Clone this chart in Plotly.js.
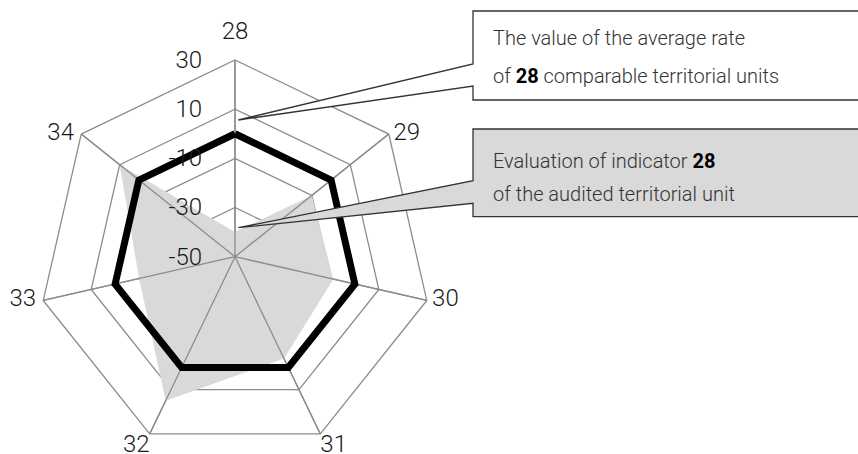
<!DOCTYPE html>
<html>
<head>
<meta charset="utf-8">
<script src="https://cdn.plot.ly/plotly-3.0.1.min.js"></script>
<style>html,body{margin:0;padding:0;background:#fff;}#chart{width:858px;height:454px;}</style>
</head>
<body>
<div id="chart"></div>
<script>
// ---- data ----
const categories = ['28', '29', '30', '31', '32', '33', '34'];
const averageValues = [0, 0, 0, 0, 0, 0, 0];
const evaluationValues = [-40, -10, -9, -4, 15, -10, 10];
const radialTicks = [-50, -30, -10, 10, 30];
const radialRange = [-50, 30];
const box1Lines = ['The value of the average rate', 'of <b><span style="color:#000">28</span></b> comparable territorial units'];
const box2Lines = ['Evaluation of indicator <b><span style="color:#000">28</span></b>', 'of the audited territorial unit'];

// ---- layout helpers ----
const W = 858, H = 454;
const px = x => x / W;
const py = y => 1 - y / H;
const FONT = "Roboto, 'Noto Sans', sans-serif";
const GRID = '#8c8c8c';

function pathOf(pts) {
  return 'M ' + pts.map(p => px(p[0]).toFixed(5) + ',' + py(p[1]).toFixed(5)).join(' L ') + ' Z';
}

// spokes drawn above the grey fill
const spokeR = [], spokeT = [];
categories.forEach(c => { spokeR.push(radialRange[0], radialRange[1], null); spokeT.push(c, c, null); });

// angular labels placed at the outer ring of an overlaid unit polar subplot
const labelPos = ['top center', 'middle right', 'middle right', 'bottom right', 'bottom left', 'middle left', 'middle left'];
const labelPad = [23, 6, 7, 0, 0, 10, 10];

const traces = [
  {
    type: 'scatterpolar', r: evaluationValues, theta: categories,
    mode: 'lines', fill: 'toself', fillcolor: '#d9d9d9',
    line: {width: 0, color: '#d9d9d9'}, hoverinfo: 'skip'
  },
  {
    type: 'scatterpolar', r: spokeR, theta: spokeT,
    mode: 'lines', line: {width: 1.3, color: GRID}, connectgaps: false, hoverinfo: 'skip'
  },
  {
    type: 'scatterpolar', r: averageValues.concat([averageValues[0]]), theta: categories.concat([categories[0]]),
    mode: 'lines', line: {width: 7, color: '#000'}, hoverinfo: 'skip'
  },
  {
    type: 'scatterpolar', subplot: 'polar2', r: categories.map(() => 0.9999), theta: categories,
    mode: 'markers+text', text: categories, textposition: labelPos,
    marker: {size: labelPad, opacity: 0}, cliponaxis: false,
    textfont: {size: 24, family: FONT, color: '#1a1a1a', weight: 300}, hoverinfo: 'skip'
  }
];

const cx = 235, cy = 256.7, R = 196.7;
const domain = {x: [px(cx - R), px(cx + R)], y: [py(cy + R), py(cy - R)]};
const layout = {
  width: W, height: H,
  margin: {l: 0, r: 0, t: 0, b: 0},
  paper_bgcolor: '#fff',
  showlegend: false,
  font: {family: FONT, color: '#1a1a1a'},
  polar: {
    domain: domain,
    gridshape: 'linear',
    bgcolor: '#fff',
    angularaxis: {
      type: 'category', categoryorder: 'array', categoryarray: categories,
      rotation: 90, direction: 'clockwise',
      showgrid: true, gridcolor: GRID, gridwidth: 1.3,
      showline: true, linecolor: GRID, linewidth: 1.3,
      ticks: '', showticklabels: false
    },
    radialaxis: {
      range: radialRange, tickvals: radialTicks, ticktext: radialTicks.map(String),
      angle: 90, side: 'counterclockwise', tickangle: 90,
      showline: false, ticks: 'outside', ticklen: 24, tickcolor: 'rgba(0,0,0,0)',
      showgrid: true, gridcolor: GRID, gridwidth: 1.3,
      tickfont: {size: 24, family: FONT, color: '#1a1a1a', weight: 300}
    }
  },
  polar2: {
    domain: domain,
    gridshape: 'linear',
    bgcolor: 'rgba(0,0,0,0)',
    angularaxis: {
      type: 'category', categoryorder: 'array', categoryarray: categories,
      rotation: 90, direction: 'clockwise',
      showgrid: false, showline: false, ticks: '', showticklabels: false
    },
    radialaxis: {range: [0, 1], visible: false, showgrid: false}
  },
  shapes: [
    {
      type: 'path', xref: 'paper', yref: 'paper',
      path: pathOf([[473, 11], [880, 11], [880, 100], [473, 100], [473, 86], [238.3, 120], [473, 64]]),
      fillcolor: '#ffffff', line: {color: '#333', width: 1.3}
    },
    {
      type: 'path', xref: 'paper', yref: 'paper',
      path: pathOf([[473, 129], [880, 129], [880, 216.7], [473, 216.7], [473, 203.3], [238.3, 227.7], [473, 180.7]]),
      fillcolor: '#d9d9d9', line: {color: '#333', width: 1.3}
    }
  ],
  annotations: [
    {text: box1Lines[0], y: 38},
    {text: box1Lines[1], y: 76},
    {text: box2Lines[0], y: 161},
    {text: box2Lines[1], y: 193.5}
  ].map(a => ({
    text: a.text, xref: 'paper', yref: 'paper', x: px(492.7), y: py(a.y),
    xanchor: 'left', yanchor: 'middle', showarrow: false, xshift: -2,
    font: {size: 20, family: FONT, color: '#333', weight: 300}
  }))
};

Plotly.newPlot('chart', traces, layout, {staticPlot: true, displayModeBar: false});
</script>
</body>
</html>
